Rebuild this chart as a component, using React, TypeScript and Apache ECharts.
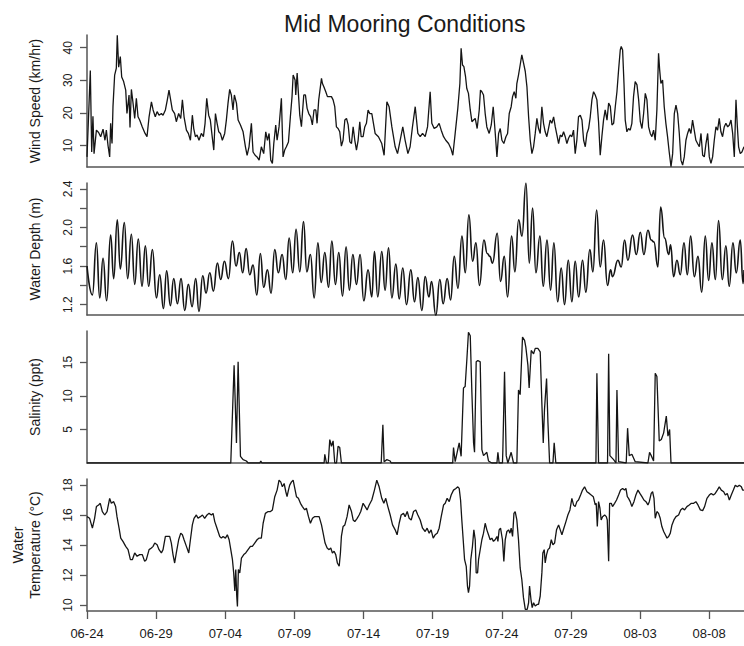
import React, { useEffect, useRef } from "react";
import * as echarts from "echarts";

// ---- data (x = days since 06-24 00:00) ----
const xTickDays = [0, 5, 10, 15, 20, 25, 30, 35, 40, 45];
const xTickLabels = ["06-24", "06-29", "07-04", "07-09", "07-14", "07-19", "07-24", "07-29", "08-03", "08-08"];
const X_MAX = 47.52;

const windSpeed: number[][] = [
  [0,6.5],[0.24,33],[0.34,8],[0.43,19],[0.51,7.5],[0.68,14.7],[0.84,14],[0.99,12.7],[1.16,15],[1.30,11.6],[1.40,14.7],[1.52,10],[1.64,6.5],[1.71,16.8],[1.81,10.6],[1.88,22],[2.00,31.6],[2.12,33.7],[2.19,43.8],[2.29,34],[2.41,37.3],[2.51,31],[2.65,29.6],[2.80,27],[2.89,19.8],[3.04,25.5],[3.11,15.5],[3.21,27.2],[3.33,23],[3.45,18.3],[3.57,24.5],[3.69,18.8],[3.81,17.8],[4.00,15.7],[4.20,13.7],[4.34,12.7],[4.49,18.8],[4.66,23.4],[4.78,20.9],[4.94,18.8],[5.07,20.4],[5.21,19.3],[5.38,19.8],[5.50,19.3],[5.67,20.9],[5.81,24],[5.93,27],[6.05,24],[6.17,20.9],[6.34,19.8],[6.46,17.3],[6.63,19.8],[6.78,18.3],[6.90,24],[7.02,18.8],[7.19,14.7],[7.33,13.7],[7.48,11.6],[7.62,19.3],[7.72,15.2],[7.84,12.7],[7.96,13.2],[8.10,11.6],[8.27,13.7],[8.42,12.7],[8.54,16.8],[8.66,24.5],[8.80,19.3],[8.92,17.8],[9.07,12.2],[9.17,8.6],[9.29,19.8],[9.41,16.8],[9.53,14.2],[9.65,13.7],[9.79,11.6],[9.96,13.7],[10.08,17.8],[10.20,23],[10.32,27.2],[10.44,25.5],[10.56,20.9],[10.66,25.5],[10.81,23],[10.93,17.8],[11.10,16.3],[11.29,14.2],[11.46,9.6],[11.58,7],[11.72,9.6],[11.89,16.8],[12.01,8],[12.16,7],[12.30,6.5],[12.45,5.5],[12.61,9.6],[12.78,7.5],[12.93,14.2],[13.05,11.6],[13.17,13.7],[13.29,5.5],[13.41,4.5],[13.51,10.6],[13.65,16.3],[13.75,11.6],[13.89,15.7],[14.06,24.5],[14.18,6.5],[14.30,8.6],[14.42,9.6],[14.57,11.1],[14.71,18.8],[14.83,25],[14.91,31.6],[15.05,30.1],[15.10,25.5],[15.20,32.2],[15.32,24],[15.39,19.3],[15.51,15.8],[15.68,25.5],[15.80,25.5],[15.92,21.4],[16.04,19.8],[16.18,18.8],[16.30,16.3],[16.42,20.9],[16.55,20.9],[16.64,16.8],[16.76,24],[16.88,28],[16.96,30.6],[17.03,29],[17.13,28],[17.27,26.5],[17.39,25],[17.56,25],[17.68,25],[17.80,24],[17.92,21.9],[18.04,15.7],[18.16,15.2],[18.28,14.2],[18.40,9.8],[18.52,11.6],[18.65,17.8],[18.77,18.3],[18.89,16.3],[19.01,11.1],[19.13,10.6],[19.25,15.7],[19.37,11.6],[19.49,8.6],[19.61,11.6],[19.73,17.3],[19.83,12.7],[19.97,12.7],[20.09,15.7],[20.21,16.8],[20.33,20.9],[20.45,19.8],[20.60,19.8],
  [20.84,13.7],[21.08,12.7],[21.32,10.6],[21.49,7],[21.69,23.4],[21.85,21.9],[22.05,15.7],[22.29,9.6],[22.46,7.5],[22.65,11.6],[22.84,15.7],[23.01,11.6],[23.21,7.5],[23.37,9.6],[23.54,15.7],[23.74,21.9],[23.93,13.7],[24.10,12.7],[24.27,13.7],[24.46,12.7],[24.63,15.7],[24.82,26.5],[24.94,16.8],[25.11,15.2],[25.30,15.7],[25.47,16.8],[25.62,14.7],[25.79,12.7],[25.95,11.6],[26.15,10.6],[26.32,9.1],[26.46,7],[26.63,13.7],[26.82,21.4],[26.97,29],[27.06,39.8],[27.16,34.7],[27.26,34.2],[27.38,31.1],[27.47,27.5],[27.59,26],[27.72,20.9],[27.84,17.3],[27.96,17.8],[28.08,18.3],[28.22,15.2],[28.37,20.9],[28.46,27],[28.56,26.5],[28.68,25.5],[28.80,19.8],[28.92,15.7],[29.09,13.7],[29.24,16.3],[29.38,21.9],[29.52,14.2],[29.65,6.5],[29.77,13.7],[29.89,15.2],[30.01,11.6],[30.15,10.6],[30.30,12.7],[30.42,13.7],[30.54,19.8],[30.68,21.9],[30.78,25],[30.90,26.5],[31.02,24.5],[31.09,29],[31.21,31.6],[31.33,34.7],[31.45,37.8],[31.58,35.2],[31.70,32.7],[31.82,28],[31.94,18.8],[32.06,11.6],[32.18,7.5],[32.30,9.6],[32.42,13.7],[32.54,18.3],[32.66,15.2],[32.78,13.7],[32.90,21.9],[33.02,16.8],[33.14,14.2],[33.26,12.7],[33.38,15.2],[33.50,17.8],[33.62,16.8],[33.75,18.8],[33.87,15.7],[33.99,13.2],[34.11,10.6],[34.23,13.2],[34.35,12.7],[34.47,14.2],[34.59,12.7],[34.71,10.6],[34.83,12.2],[34.95,13.2],[35.07,12.7],[35.19,14.7],[35.31,7.5],[35.43,11.6],[35.55,18.8],[35.68,19.3],[35.80,17.8],[35.92,11.6],[36.04,9.6],[36.16,13.7],[36.28,15.2],[36.40,18.8],[36.52,24],[36.64,26.5],[36.76,25.5],[36.88,24],[37.00,17.3],[37.12,7],[37.24,12.7],[37.36,17.8],[37.48,20.9],[37.61,17.8],[37.73,23],[37.85,22],[37.97,16.3],[38.09,16.8],[38.21,21.9],[38.33,26.5],[38.45,33.2],[38.57,39.3],[38.64,40.4],[38.74,39.3],[38.84,29],[38.93,17.8],[39.05,14.2],[39.17,15.2],[39.29,14.7],[39.41,16.8],[39.53,25],[39.65,29.6],[39.78,28.6],[39.90,24],[40.02,17.3],[40.14,15.2],[40.26,19.8],[40.38,26],[40.50,24],[40.62,15.7],[40.74,13.7],[40.86,12.7],[40.98,14.7],[41.10,11.6],[41.22,21],[41.34,38.3],[41.42,33.2],[41.51,29],[41.63,30.1],[41.75,21.9],[41.87,16.8],[41.99,12.7],[42.11,8],[42.24,3.5],[42.36,7.5],[42.48,19.8],[42.60,22.4],[42.72,19.8],[42.84,13.7],[42.96,5.5],[43.08,4],[43.20,6.5],[43.32,11.6],[43.44,13.7],[43.56,15.2],[43.68,13.7],[43.80,17.8],[43.92,14.7],[44.04,11.6],[44.16,10.6],[44.29,9.6],[44.41,13.7],[44.53,7],[44.65,6.5],[44.77,10.6],[44.89,13.7],[45.01,6.5],[45.13,4.5],[45.25,6.5],[45.37,11.6],[45.49,15.7],[45.61,14.7],[45.73,18.3],[45.85,14.2],[45.97,12.7],[46.09,15.7],[46.21,16.8],[46.34,15.7],[46.46,16.3],[46.58,17.8],[46.70,13.7],[46.82,6.5],[46.94,24],[47.04,15.7],[47.13,9.6],[47.25,7.5],[47.37,8],[47.52,9.6]
];

const waterDepth: number[][] = [
  [0,1.60],[0.39,1.30],[0.68,1.84],[0.92,1.27],[1.16,1.68],[1.42,1.24],[1.71,1.92],[1.93,1.47],[2.19,2.08],[2.41,1.57],[2.70,2.05],[2.94,1.47],[3.21,1.93],[3.45,1.41],[3.71,1.88],[3.98,1.39],[4.22,1.81],[4.46,1.39],[4.73,1.77],[5.02,1.27],[5.26,1.51],[5.53,1.16],[5.76,1.55],[6.03,1.19],[6.27,1.47],[6.54,1.21],[6.80,1.47],[7.07,1.14],[7.33,1.41],[7.60,1.18],[7.86,1.47],[8.10,1.13],[8.37,1.50],[8.61,1.32],[8.88,1.53],[9.14,1.34],[9.43,1.63],[9.67,1.46],[9.94,1.65],[10.23,1.47],[10.52,1.86],[10.78,1.60],[11.02,1.74],[11.26,1.53],[11.51,1.78],[11.77,1.51],[12.01,1.61],[12.28,1.30],[12.54,1.73],[12.78,1.38],[13.05,1.56],[13.31,1.32],[13.58,1.77],[13.84,1.53],[14.11,1.72],[14.38,1.46],[14.62,1.89],[14.88,1.53],[15.12,1.98],[15.39,1.54],[15.66,2.06],[15.90,1.54],[16.16,1.72],[16.43,1.27],[16.70,1.84],[16.94,1.43],[17.20,1.74],[17.47,1.38],[17.71,1.86],[17.97,1.41],[18.21,1.74],[18.48,1.29],[18.74,1.80],[18.98,1.35],[19.23,1.72],[19.49,1.41],[19.75,1.72],[20.02,1.24],[20.33,1.56],
  [20.60,1.28],[20.79,1.75],[21.03,1.28],[21.32,1.75],[21.56,1.35],[21.81,1.79],[22.05,1.27],[22.34,1.62],[22.58,1.26],[22.84,1.58],[23.11,1.20],[23.42,1.56],[23.69,1.23],[23.93,1.48],[24.22,1.14],[24.46,1.49],[24.73,1.28],[24.92,1.44],[25.23,1.09],[25.52,1.46],[25.76,1.21],[26.05,1.47],[26.30,1.25],[26.56,1.70],[26.83,1.37],[27.12,1.91],[27.36,1.53],[27.62,2.13],[27.89,1.65],[28.13,1.84],[28.39,1.40],[28.71,1.87],[28.95,1.73],[29.14,1.70],[29.33,1.63],[29.67,1.94],[29.91,1.44],[30.18,1.70],[30.42,1.28],[30.71,1.91],[30.95,1.54],[31.22,2.08],[31.46,1.91],[31.75,2.46],[31.99,1.63],[32.23,2.20],[32.47,1.53],[32.76,1.91],[33.00,1.39],[33.27,1.87],[33.53,1.35],[33.77,1.84],[34.04,1.23],[34.30,1.58],[34.54,1.20],[34.81,1.66],
  [35.07,1.23],[35.31,1.65],[35.56,1.28],[35.84,1.66],[36.08,1.33],[36.37,1.77],[36.59,1.54],[36.86,2.18],[37.12,1.59],[37.36,1.87],[37.65,1.40],[37.87,1.56],[38.01,1.49],[38.40,1.66],[38.64,1.59],[38.88,1.87],[39.12,1.66],[39.46,1.92],[39.73,1.72],[40.02,1.95],[40.28,1.72],[40.57,1.97],[40.81,1.87],[41.00,1.85],[41.29,1.59],[41.49,2.21],[41.78,1.89],[42.07,1.72],[42.21,1.82],[42.43,1.49],[42.67,1.66],[42.91,1.51],[43.18,1.84],[43.42,1.51],[43.66,1.91],[43.93,1.49],[44.19,1.70],[44.46,1.33],[44.72,1.91],[44.96,1.45],[45.20,1.84],[45.45,1.46],[45.68,2.07],[45.95,1.46],[46.21,1.81],[46.45,1.39],[46.72,1.84],[46.96,1.53],[47.25,1.87],[47.45,1.42],[47.52,1.56]
];

const salinity: number[][] = [
  [0,0],[10.40,0],[10.64,14.6],[10.81,3.0],[10.93,15.1],[11.10,1],[11.29,0.5],[11.53,0.3],[11.65,0],[12.50,0],[12.57,0.3],[12.65,0],[17.15,0],[17.20,1.3],[17.32,0],[17.45,0],[17.56,3.5],[17.68,2.5],[17.80,3.3],[17.92,0],[18.05,0],[18.16,2.5],[18.28,2.3],[18.40,0],[21.28,0],[21.40,5.7],[21.49,0.2],[21.69,0.5],[21.93,0.3],[22.0,0],[26.45,0],[26.51,2.3],[26.63,0.2],[26.92,3.0],[27.06,1.0],[27.23,11.2],[27.35,11.4],[27.47,15.3],[27.59,19.5],[27.72,19.0],[27.84,10.4],[27.96,3.0],[28.03,1.6],[28.15,15.1],[28.27,15.3],[28.44,15.1],[28.56,2.0],[28.68,1.1],[28.92,1.6],[29.04,0.3],[29.28,0],[29.65,0],[29.72,1.6],[29.81,0],[30.05,0],[30.08,2.0],[30.20,13.6],[30.32,1.1],[30.44,0],[30.68,1.6],[30.85,0],[31.09,0],[31.21,10.9],[31.33,10.2],[31.50,18.8],[31.65,18.3],[31.74,17.3],[31.89,14.6],[31.98,11.2],[32.13,16.8],[32.30,16.3],[32.42,17.1],[32.61,17.1],[32.78,16.6],[32.90,8.9],[33.00,3.0],[33.09,8],[33.24,12.6],[33.34,6],[33.46,0],[33.70,0],[33.79,3.0],[33.91,0],[36.81,0],[36.88,13.4],[37.00,0],[37.65,0],[37.73,16.3],[37.82,1.1],[38.09,0.5],[38.26,0],[38.33,10.9],[38.45,0.2],[39.0,0],[39.10,5.2],[39.22,1.1],[39.41,1.3],[39.65,0.2],[40.57,0],[40.69,1.6],[40.81,1.1],[40.98,0.3],[41.10,13.4],[41.22,12.9],[41.39,3.3],[41.54,3.5],[41.71,4.5],[41.90,7],[42.02,4],[42.14,5],[42.24,0],[47.52,0]
];

const waterTemp: number[][] = [
  [0,15.89],[0.19,15.78],[0.39,15.12],[0.55,15.78],[0.68,16.56],[0.84,16.67],[0.96,16.78],[1.11,16.23],[1.28,16.00],[1.45,16.23],[1.64,17.11],[1.76,16.78],[1.93,16.89],[2.07,16.56],[2.17,15.89],[2.32,15.12],[2.44,14.46],[2.60,14.24],[2.80,13.91],[2.97,13.69],[3.14,13.02],[3.28,13.02],[3.45,13.47],[3.62,13.25],[3.81,13.36],[4.00,13.36],[4.17,12.91],[4.29,13.02],[4.49,13.69],[4.66,13.80],[4.78,13.91],[4.90,14.13],[5.07,14.02],[5.21,13.69],[5.38,13.47],[5.50,13.69],[5.67,14.57],[5.79,14.57],[5.98,14.57],[6.10,14.13],[6.22,13.36],[6.34,12.80],[6.46,13.47],[6.63,14.35],[6.78,14.79],[6.90,14.68],[7.02,14.35],[7.19,13.91],[7.36,13.47],[7.48,14.35],[7.62,15.34],[7.74,15.78],[7.91,16.00],[8.03,15.78],[8.20,15.89],[8.35,16.00],[8.51,15.78],[8.68,16.00],[8.83,16.11],[9.00,16.00],[9.12,16.11],[9.24,15.56],[9.36,15.23],[9.48,14.90],[9.60,14.57],[9.72,14.46],[9.84,14.57],[10.01,14.46],[10.15,14.68],[10.28,14.35],[10.40,13.69],[10.52,13.02],[10.61,12.14],[10.69,10.93],[10.76,12.36],[10.83,10.60],[10.88,9.9],[10.95,12.36],[11.05,12.14],[11.17,13.13],[11.34,13.36],[11.48,13.47],[11.65,13.69],[11.82,13.91],[11.96,13.91],[12.13,14.13],[12.30,14.35],[12.45,14.46],[12.61,14.46],[12.74,15.45],[12.90,16.11],[13.10,16.23],[13.27,16.23],[13.41,16.34],[13.58,17.22],[13.75,17.66],[13.89,18.32],[14.01,18.21],[14.13,17.88],[14.26,18.10],[14.38,17.55],[14.47,17.22],[14.57,17.66],[14.66,17.99],[14.79,18.21],[14.91,18.32],[15.03,17.77],[15.15,17.22],[15.29,17.11],[15.44,16.78],[15.58,16.56],[15.75,16.34],[15.87,16.45],[16.02,15.89],[16.16,15.45],[16.31,15.78],[16.45,15.89],[16.59,15.89],[16.79,15.89],[16.96,15.34],[17.08,14.79],[17.22,14.13],[17.37,13.80],[17.51,13.69],[17.63,13.80],[17.75,13.47],[17.87,13.58],[17.99,13.36],[18.11,12.80],[18.24,12.58],[18.33,13.47],[18.40,14.57],[18.52,15.23],[18.65,15.34],[18.81,15.89],[18.96,16.67],[19.13,16.23],[19.25,15.67],[19.37,15.56],[19.54,15.78],[19.68,16.00],[19.80,16.23],[19.97,16.78],[20.12,16.56],[20.26,16.34],[20.41,16.67],[20.60,17.00],
  [20.79,17.66],[20.96,18.32],[21.13,17.88],[21.32,17.11],[21.47,16.78],[21.61,17.11],[21.76,16.56],[21.93,16.00],[22.10,15.34],[22.29,15.01],[22.43,14.68],[22.58,15.45],[22.72,16.00],[22.89,16.11],[23.01,15.89],[23.16,16.23],[23.30,15.78],[23.45,15.67],[23.62,16.23],[23.78,16.34],[23.93,16.00],[24.10,15.67],[24.27,15.12],[24.46,14.90],[24.60,15.12],[24.75,14.79],[24.89,15.01],[25.04,14.46],[25.18,14.68],[25.33,14.79],[25.47,15.12],[25.62,15.89],[25.79,16.67],[25.91,16.78],[26.05,17.11],[26.20,16.89],[26.34,17.33],[26.51,17.66],[26.68,17.77],[26.82,17.88],[26.92,17.77],[27.02,17.00],[27.11,15.67],[27.21,14.35],[27.31,13.02],[27.43,12.58],[27.52,11.26],[27.59,10.82],[27.67,11.26],[27.76,13.02],[27.88,13.91],[27.98,15.01],[28.08,14.35],[28.15,12.14],[28.25,12.14],[28.32,13.02],[28.44,13.69],[28.56,14.35],[28.68,14.79],[28.80,15.45],[28.92,15.01],[29.04,14.68],[29.16,14.35],[29.28,14.46],[29.40,14.24],[29.52,14.35],[29.65,14.57],[29.72,14.24],[29.81,15.01],[29.91,15.12],[30.05,14.35],[30.15,12.91],[30.25,14.35],[30.37,14.90],[30.49,15.01],[30.59,14.79],[30.68,15.12],[30.78,14.57],[30.88,16.11],[30.97,16.23],[31.09,15.67],[31.21,14.35],[31.33,12.47],[31.45,11.70],[31.57,10.49],[31.70,9.71],[31.84,9.71],[31.94,10.15],[32.01,11.26],[32.11,10.38],[32.20,9.82],[32.30,10.15],[32.42,9.93],[32.56,10.04],[32.66,10.04],[32.78,10.60],[32.90,12.14],[32.97,13.47],[33.07,13.69],[33.14,12.80],[33.24,13.36],[33.34,13.69],[33.46,13.80],[33.58,14.35],[33.70,14.02],[33.82,14.13],[33.96,15.01],[34.11,15.34],[34.23,15.01],[34.35,14.68],[34.49,15.12],[34.64,15.56],[34.78,16.00],[34.93,16.34],[35.07,17.11],[35.19,16.67],[35.31,16.56],[35.43,16.89],[35.55,17.00],[35.70,17.33],[35.84,17.66],[35.99,17.88],[36.16,17.55],[36.33,17.44],[36.47,17.33],[36.62,17.22],[36.76,16.67],[36.83,16.78],[36.91,15.23],[37.00,16.89],[37.10,16.45],[37.19,15.67],[37.29,15.89],[37.44,16.00],[37.56,15.89],[37.63,15.67],[37.73,12.91],[37.80,16.78],[37.92,16.78],[38.01,16.56],[38.16,16.78],[38.30,17.00],[38.45,17.33],[38.59,17.66],[38.74,17.77],[38.88,17.66],[38.98,17.77],[39.08,17.22],[39.17,17.11],[39.29,16.89],[39.41,16.56],[39.56,16.89],[39.70,17.33],[39.85,17.66],[39.99,17.44],[40.14,17.22],[40.28,17.00],[40.43,16.89],[40.57,16.67],[40.67,16.89],[40.81,17.44],[40.91,17.55],[41.01,17.11],[41.10,15.78],[41.22,16.23],[41.34,16.11],[41.46,15.78],[41.58,15.23],[41.71,14.90],[41.83,14.68],[41.95,14.46],[42.07,14.57],[42.19,14.79],[42.31,15.34],[42.45,15.67],[42.60,15.89],[42.79,16.00],[42.94,16.34],[43.08,16.45],[43.22,16.34],[43.39,16.56],[43.56,16.67],[43.71,16.78],[43.88,16.78],[44.04,16.89],[44.19,16.67],[44.36,16.34],[44.53,16.29],[44.67,16.56],[44.84,17.11],[45.01,17.33],[45.15,17.44],[45.30,17.33],[45.44,17.44],[45.59,17.66],[45.73,17.88],[45.88,17.66],[46.05,17.55],[46.17,17.33],[46.31,17.44],[46.46,17.00],[46.60,17.33],[46.75,17.66],[46.89,17.99],[47.04,17.88],[47.18,17.99],[47.33,17.88],[47.42,17.66],[47.52,17.66]
];

const windTicks = [10, 20, 30, 40];
const depthTicks = [1.2, 1.4, 1.6, 1.8, 2.0, 2.2, 2.4];
const depthLabels = [1.2, 1.6, 2.0, 2.4];
const salinityTicks = [5, 10, 15];
const tempTicks = [10, 12, 14, 16, 18];

const FONT = "Liberation Sans, Arial, sans-serif";
const AXIS_COLOR = "#555";
const TEXT_COLOR = "#1a1a1a";

export default function App() {
  const ref = useRef<HTMLDivElement>(null);
  useEffect(() => {
    if (!ref.current) return;
    const chart = echarts.init(ref.current, undefined, { renderer: "svg" });

    const tops = [35, 183, 331, 479];
    const panelH = 132;
    const grids = tops.map((t) => ({ left: 87, right: 0, top: t, height: panelH }));

    const panels = [
      { name: "Wind Speed (km/hr)", min: 3.4, max: 43.9, ticks: windTicks, labels: windTicks, data: windSpeed, dec: 0, smooth: false as any, width: 1.3 },
      { name: "Water Depth (m)", min: 1.093, max: 2.46, ticks: depthTicks, labels: depthLabels, data: waterDepth, dec: 1, smooth: 0.5 as any, width: 1.6 },
      { name: "Salinity (ppt)", min: 0, max: 19.7, ticks: salinityTicks, labels: salinityTicks, data: salinity, dec: 0, smooth: false as any, width: 1.3 },
      { name: "Water\nTemperature (\u00B0C)", min: 9.6, max: 18.4, ticks: tempTicks, labels: tempTicks, data: waterTemp, dec: 0, smooth: false as any, width: 1.3 },
    ];

    const xAxes = panels.map((_, i) => {
      const last = i === panels.length - 1;
      return {
        type: "value",
        gridIndex: i,
        min: 0,
        max: X_MAX,
        axisLine: { show: true, onZero: false, lineStyle: { color: AXIS_COLOR, width: 1.5 } },
        axisTick: last
          ? { show: true, customValues: xTickDays, length: 8, lineStyle: { color: AXIS_COLOR, width: 1.3 } }
          : { show: false },
        axisLabel: last
          ? {
              show: true,
              customValues: xTickDays,
              margin: 16,
              fontSize: 13,
              fontFamily: FONT,
              color: TEXT_COLOR,
              formatter: (v: number) => {
                const k = xTickDays.findIndex((d) => Math.abs(d - v) < 1e-6);
                return k >= 0 ? xTickLabels[k] : "";
              },
            }
          : { show: false },
        splitLine: { show: false },
      };
    });

    const yAxes = panels.map((p, i) => ({
      type: "value",
      gridIndex: i,
      min: p.min,
      max: p.max,
      name: p.name,
      nameLocation: "middle",
      nameRotate: 90,
      nameGap: 44,
      nameTextStyle: { fontSize: 14, fontFamily: FONT, color: TEXT_COLOR, lineHeight: 17 },
      axisLine: { show: true, onZero: false, lineStyle: { color: AXIS_COLOR, width: 1.5 } },
      axisTick: { show: true, customValues: p.ticks, length: 7, lineStyle: { color: AXIS_COLOR, width: 1.3 } },
      axisLabel: {
        show: true,
        customValues: p.labels,
        rotate: 90,
        margin: 13,
        fontSize: 12,
        fontFamily: FONT,
        color: TEXT_COLOR,
        formatter: (v: number) => v.toFixed(p.dec),
      },
      splitLine: { show: false },
    }));

    const series = panels.map((p, i) => ({
      type: "line",
      name: p.name,
      xAxisIndex: i,
      yAxisIndex: i,
      data: p.data,
      showSymbol: false,
      symbol: "none",
      smooth: p.smooth,
      smoothMonotone: "x",
      silent: true,
      clip: true,
      lineStyle: { color: "#151515", width: p.width },
    }));

    chart.setOption({
      animation: false,
      backgroundColor: "#ffffff",
      title: {
        text: "Mid Mooring Conditions",
        left: 279,
        top: 7,
        textStyle: { fontSize: 23, fontWeight: "normal", fontFamily: FONT, color: TEXT_COLOR },
      },
      grid: grids,
      xAxis: xAxes,
      yAxis: yAxes,
      series,
    });
    return () => chart.dispose();
  }, []);

  return (
    <div
      ref={ref}
      style={{ position: "absolute", left: 0, top: 0, width: 744, height: 646, background: "#fff" }}
    />
  );
}
